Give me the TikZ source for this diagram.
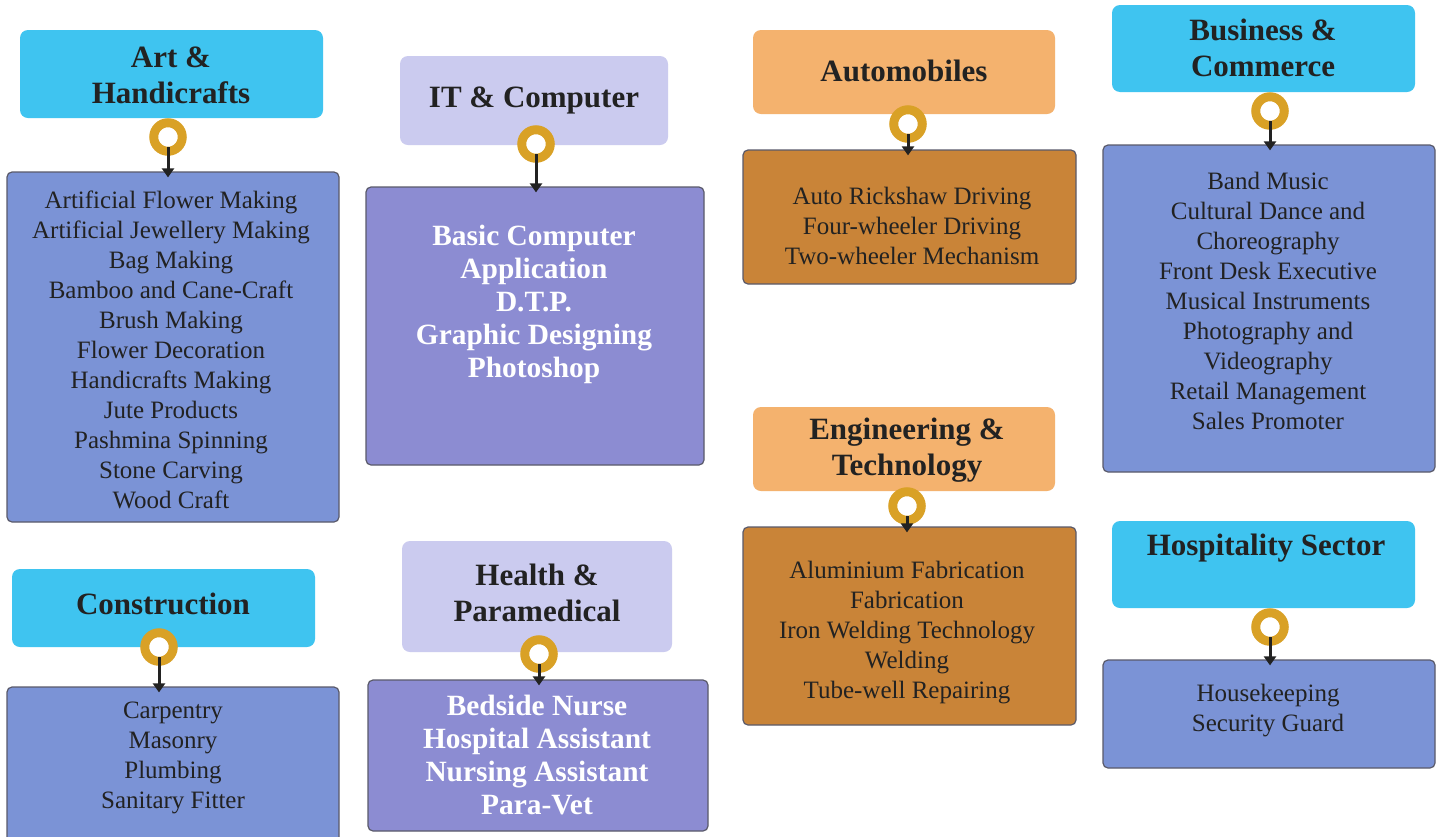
\documentclass[tikz,border=0pt]{standalone}
\usepackage{fontspec}
\setmainfont{Liberation Serif}
\usetikzlibrary{fit,arrows.meta}
\definecolor{hblue}{HTML}{3FC4F0}
\definecolor{hlav}{HTML}{CBCBEF}
\definecolor{horange}{HTML}{F4B26E}
\definecolor{bblue}{HTML}{7B93D6}
\definecolor{bpurple}{HTML}{8C8CD2}
\definecolor{borange}{HTML}{C98438}
\definecolor{ringcol}{HTML}{D9A126}
\definecolor{txt}{HTML}{222222}
\definecolor{edge}{HTML}{5A5A6A}
\tikzset{
  hdr/.style={rounded corners=4pt, inner sep=0pt, draw=none},
  bodybox/.style={rounded corners=2.5pt, inner sep=0pt, draw=edge, line width=0.6pt},
  htext/.style={align=center, text=txt, font=\fontsize{15.5}{18}\selectfont\bfseries, inner sep=0pt},
  btext/.style={align=center, text=txt, font=\fontsize{12.5}{15}\selectfont, inner sep=0pt},
  wtext/.style={align=center, text=white, font=\fontsize{14.7}{16.5}\selectfont\bfseries, inner sep=0pt},
  ring/.style={circle, draw=ringcol, fill=white, line width=4.5pt, minimum size=14.25pt, inner sep=0pt},
  arr/.style={draw=txt, line width=1.5pt, -{Triangle[width=6pt,length=4.5pt]}, shorten <=5pt, shorten >=-3pt}
}
\begin{document}
\begin{tikzpicture}[x=0.5pt,y=-0.5pt]
\fill[white] (0,0) rectangle (1440,836);
\useasboundingbox (0,0) rectangle (1440,836);
% headers
\node[hdr, fill=hblue, fit={(20,30) (323,118)}] (h1) {};
\node[hdr, fill=hlav, fit={(400,56) (668,145)}] (h2) {};
\node[hdr, fill=horange, fit={(753,30) (1055,114)}] (h3) {};
\node[hdr, fill=hblue, fit={(1112,5) (1415,92)}] (h4) {};
\node[hdr, fill=hblue, fit={(12,569) (315,647)}] (h5) {};
\node[hdr, fill=hlav, fit={(402,541) (672,652)}] (h6) {};
\node[hdr, fill=horange, fit={(753,407) (1055,491)}] (h7) {};
\node[hdr, fill=hblue, fit={(1112,521) (1415,608)}] (h8) {};
% bodies
\node[bodybox, fill=bblue, fit={(7,172) (339,522)}] (b1) {};
\node[bodybox, fill=bpurple, fit={(366,187) (704,465)}] (b2) {};
\node[bodybox, fill=borange, fit={(743,150) (1076,284)}] (b3) {};
\node[bodybox, fill=bblue, fit={(1103,145) (1435,472)}] (b4) {};
\node[bodybox, fill=bblue, fit={(7,687) (339,842)}] (b5) {};
\node[bodybox, fill=bpurple, fit={(368,680) (708,831)}] (b6) {};
\node[bodybox, fill=borange, fit={(743,527) (1076,725)}] (b7) {};
\node[bodybox, fill=bblue, fit={(1103,660) (1435,768)}] (b8) {};
% header texts
\node[htext] (t1) at (171,75) {Art \&\\Handicrafts};
\node[htext] (t2) at (534,100) {IT \& Computer};
\node[htext] (t3) at (904,71) {Automobiles};
\node[htext] (t4) at (1263,48) {Business \&\\Commerce};
\node[htext] (t5) at (163,604) {Construction};
\node[htext] (t6) at (537,593) {Health \&\\Paramedical};
\node[htext] (t7) at (907,450) {Engineering \&\\Technology};
\node[htext] (t8) at (1266,548) {Hospitality Sector};
% body texts
\node[btext] (c1) at (171,350) {Artificial Flower Making\\Artificial Jewellery Making\\Bag Making\\Bamboo and Cane-Craft\\Brush Making\\Flower Decoration\\Handicrafts Making\\Jute Products\\Pashmina Spinning\\Stone Carving\\Wood Craft};
\node[wtext] (c2) at (534,304) {Basic Computer\\Application\\D.T.P.\\Graphic Designing\\Photoshop};
\node[btext] (c3) at (912,226) {Auto Rickshaw Driving\\Four-wheeler Driving\\Two-wheeler Mechanism};
\node[btext] (c4) at (1268,301) {Band Music\\Cultural Dance and\\Choreography\\Front Desk Executive\\Musical Instruments\\Photography and\\Videography\\Retail Management\\Sales Promoter};
\node[btext] (c5) at (173,758) {Carpentry\\Masonry\\Plumbing\\Sanitary Fitter};
\node[wtext] (c6) at (537,755) {Bedside Nurse\\Hospital Assistant\\Nursing Assistant\\Para-Vet};
\node[btext] (c7) at (907,633) {Aluminium Fabrication\\Fabrication\\Iron Welding Technology\\Welding\\Tube-well Repairing};
\node[btext] (c8) at (1268,711) {Housekeeping\\Security Guard};
% rings
\node[ring] (r1) at (168,137) {};
\node[ring] (r2) at (536,144) {};
\node[ring] (r3) at (908,124) {};
\node[ring] (r4) at (1270,111) {};
\node[ring] (r5) at (159,647) {};
\node[ring] (r6) at (539,654) {};
\node[ring] (r7) at (907,506) {};
\node[ring] (r8) at (1270,627) {};
% arrows
\foreach \i in {1,...,8}{
  \draw[arr] (r\i.center) -- (r\i.center |- b\i.north);
}
\end{tikzpicture}
\end{document}
